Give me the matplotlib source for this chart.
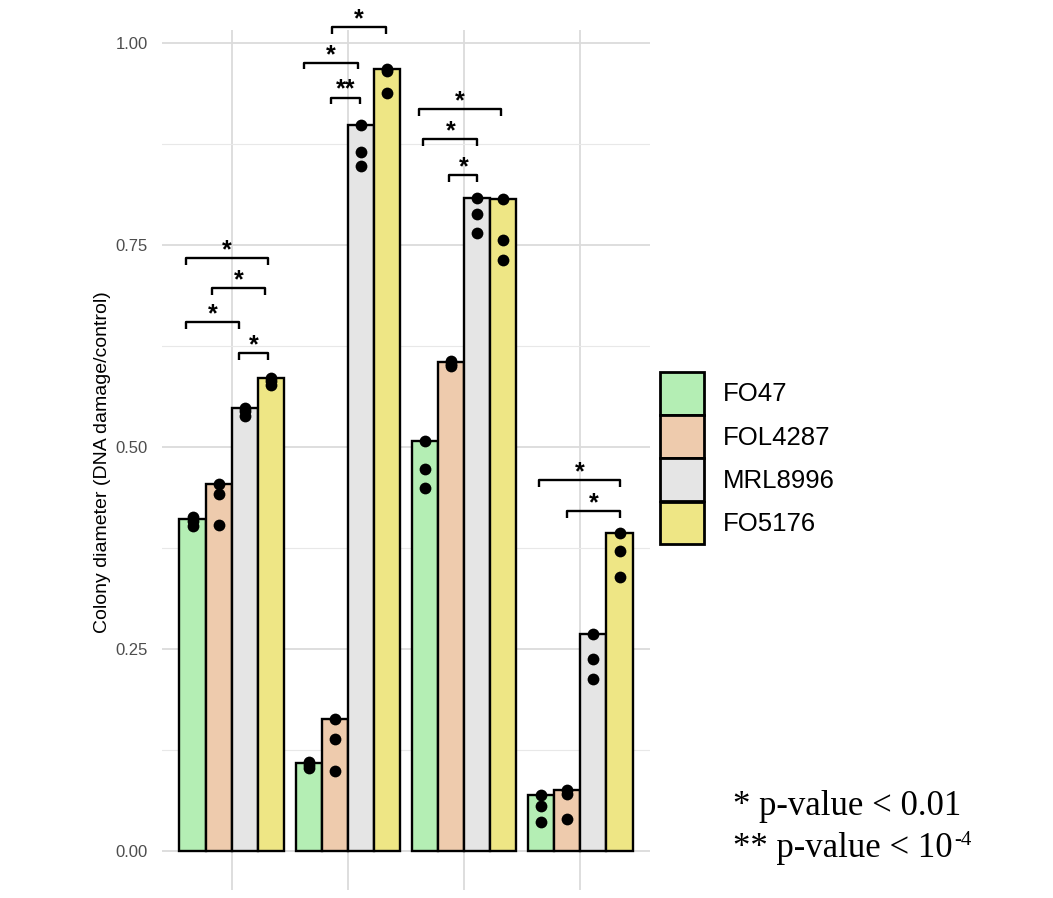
import numpy as np
import matplotlib
matplotlib.use("Agg")
import matplotlib.pyplot as plt
from matplotlib.patches import Patch

plt.rcParams["font.family"] = ["Liberation Sans", "DejaVu Sans"]

# ---- data -------------------------------------------------------------
strains = ["FO47", "FOL4287", "MRL8996", "FO5176"]
colors = ["#B4EEB4", "#EECBAD", "#E5E5E5", "#EEE685"]
conditions = ["", "", "", ""]          # unlabeled treatment groups

# bar heights per condition (rows) and strain (columns)
bar_heights = np.array([
    [0.411, 0.454, 0.549, 0.585],
    [0.109, 0.163, 0.899, 0.968],
    [0.508, 0.605, 0.809, 0.807],
    [0.069, 0.075, 0.268, 0.393],
])

# individual replicates [condition][strain] -> three values
replicates = [
    [[0.413, 0.409, 0.402], [0.454, 0.442, 0.404], [0.549, 0.545, 0.539], [0.586, 0.582, 0.577]],
    [[0.110, 0.106, 0.103], [0.163, 0.139, 0.099], [0.899, 0.865, 0.848], [0.968, 0.966, 0.938]],
    [[0.508, 0.473, 0.449], [0.606, 0.603, 0.600], [0.809, 0.788, 0.765], [0.807, 0.757, 0.732]],
    [[0.069, 0.055, 0.036], [0.075, 0.070, 0.039], [0.268, 0.238, 0.213], [0.393, 0.371, 0.339]],
]

# significance brackets: (x_start, x_end, height, label)
brackets = [
    (0.609, 1.313, 0.7336, "*"),
    (0.830, 1.284, 0.697, "*"),
    (0.609, 1.063, 0.655, "*"),
    (1.063, 1.308, 0.6166, "*"),
    (1.859, 2.328, 1.0195, "*"),
    (1.621, 2.084, 0.976, "*"),
    (1.853, 2.103, 0.9327, "**"),
    (2.612, 3.316, 0.919, "*"),
    (2.649, 3.115, 0.881, "*"),
    (2.871, 3.115, 0.8364, "*"),
    (3.647, 4.345, 0.4589, "*"),
    (3.885, 4.345, 0.4208, "*"),
]

y_ticks = [0.00, 0.25, 0.50, 0.75, 1.00]
y_tick_labels = ["0.00", "0.25", "0.50", "0.75", "1.00"]
y_label = "Colony diameter (DNA damage/control)"
note_lines = ["* p-value < 0.01", "** p-value < 10"]
note_exponent = "-4"

# ---- figure -----------------------------------------------------------
fig = plt.figure(figsize=(10.53, 8.98), dpi=100)
ax = fig.add_axes([162 / 1053, 8 / 898, 488 / 1053, 860 / 898])

n_strain = len(strains)
width = 0.9 / n_strain
x_groups = np.arange(1, len(conditions) + 1)

for j, (name, col) in enumerate(zip(strains, colors)):
    xs = x_groups - 0.45 + width * (j + 0.5)
    ax.bar(xs, bar_heights[:, j], width=width, color=col, edgecolor="black",
           linewidth=1.7, zorder=3, label=name)
    for i, x in enumerate(xs):
        vals = replicates[i][j]
        ax.scatter([x] * len(vals), vals, s=72, color="black", zorder=4,
                   linewidths=0)

tick_h = 0.0085
for x0, x1, y, lab in brackets:
    ax.plot([x0, x0, x1, x1], [y - tick_h, y, y, y - tick_h], color="black",
            lw=1.7, clip_on=False, zorder=5, solid_capstyle="butt")
    ax.text((x0 + x1) / 2, y + 0.001, lab, ha="center", va="baseline",
            fontsize=18, fontweight="bold", clip_on=False, zorder=5)

ax.set_xlim(0.4, 4.6)
ax.set_ylim(-0.0484, 1.0164)
ax.set_xticks(x_groups)
ax.set_xticklabels(conditions)
ax.set_yticks(y_ticks)
ax.set_yticklabels(y_tick_labels, fontsize=12, color="#4D4D4D")
ax.set_yticks([0.125, 0.375, 0.625, 0.875], minor=True)
ax.tick_params(axis="both", which="both", length=0)
ax.tick_params(axis="y", pad=10)
ax.grid(True, which="major", color="#DBDBDB", lw=1.3, zorder=0)
ax.grid(True, which="minor", axis="y", color="#E8E8E8", lw=0.8, zorder=0)
ax.set_axisbelow(True)
for s in ax.spines.values():
    s.set_visible(False)

ax.set_ylabel(y_label, fontsize=14)
ax.yaxis.set_label_coords(-0.104, 0.497)

handles = [Patch(facecolor=c, edgecolor="black", linewidth=2.0) for c in colors]
fig.legend(handles, strains, loc="upper left",
           bbox_to_anchor=(660 / 1053, 1 - 372 / 898), frameon=False,
           fontsize=18.5, handlelength=1.72, handleheight=2.18,
           handletextpad=0.72, labelspacing=0.02, borderaxespad=0,
           borderpad=0)

fig.text(733 / 1053, (898 - 815) / 898, note_lines[0], fontsize=25,
         family="Liberation Serif", va="baseline", ha="left")
t2 = fig.text(733 / 1053, (898 - 857) / 898, note_lines[1], fontsize=25,
              family="Liberation Serif", va="baseline", ha="left")
ax.annotate(note_exponent, xy=(1.0, 1.0), xycoords=t2, xytext=(1, 1),
            textcoords="offset points", ha="left", va="top", fontsize=15,
            family="Liberation Serif", annotation_clip=False)

fig.savefig("out.png", dpi=100, facecolor="white")
